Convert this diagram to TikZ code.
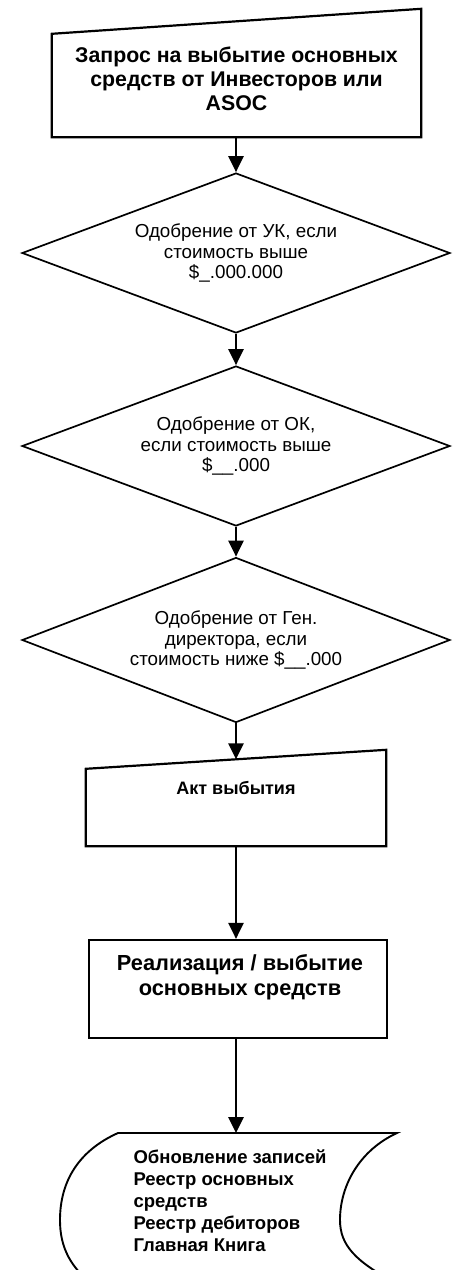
\documentclass[tikz,border=0pt]{standalone}
\usepackage{fontspec}
\setmainfont{Liberation Sans}
\usetikzlibrary{shapes.geometric,arrows.meta,calc}

\begin{document}
\begin{tikzpicture}[x=1pt, y=-1pt, line join=miter,
    flow/.style={-{Triangle[length=16pt,width=15pt]}, line width=2.6pt},
    dec/.style={diamond, draw, line width=1.7pt, shape aspect=2.675,
      minimum width=428pt, minimum height=160pt, inner sep=0pt,
      align=center, font=\fontsize{18.8}{20.8}\selectfont},
    frame/.style={inner sep=0pt},
    boldtxt/.style={align=center, font=\bfseries\fontsize{21.3}{24}\selectfont}]
    \useasboundingbox (0,0) rectangle (458,1270);
    \clip (0,0) rectangle (458,1270);

    % request (manual input)
    \node[frame, minimum width=369pt, minimum height=103pt] (req) at (236.5,85.5) {};
    \draw[line width=2.2pt] (req.south west) -- (req.north west)
      -- ($(req.north east)+(0,25pt)$) -- (req.south east) -- cycle;
    \node[boldtxt] (reqtxt) at (236.5,79)
      {Запрос на выбытие основных\\средств от Инвесторов или\\ASOC};

    % approvals
    \node[dec] (uk) at (236,253) {Одобрение от УК, если\\стоимость выше\\\$\_.000.000};
    \node[dec] (ok) at (236,446) {Одобрение от ОК,\\если стоимость выше\\\$\_\_.000};
    \node[dec, minimum height=165pt] (gd) at (236,640)
      {Одобрение от Ген.\\директора, если\\стоимость ниже \$\_\_.000};

    % act (manual input)
    \node[frame, minimum width=300pt, minimum height=77pt] (akt) at (236,807.5) {};
    \draw[line width=2.2pt] (akt.south west) -- (akt.north west)
      -- ($(akt.north east)+(0,19pt)$) -- (akt.south east) -- cycle;
    \node[boldtxt, font=\bfseries\fontsize{18}{21}\selectfont] (akttxt) at (236,788) {Акт выбытия};

    % disposal
    \node[draw, line width=2.2pt, minimum width=298pt, minimum height=98pt] (real) at (238,989) {};
    \node[boldtxt, font=\bfseries\fontsize{21.8}{25}\selectfont] (realtxt) at (240,977.5)
      {Реализация / выбытие\\основных средств};

    % records (stored data)
    \coordinate (upd-n) at (236,1133);
    \draw[line width=1.9pt] (118,1300) .. controls (68,1275) and (60,1245) .. (60,1220)
      .. controls (60,1180) and (80,1150) .. (118,1133) -- (397,1133)
      .. controls (360,1150) and (340,1185) .. (340,1220)
      .. controls (340,1245) and (355,1262) .. (400,1285);
    \node[anchor=west, align=left, font=\bfseries\fontsize{18.5}{22}\selectfont] (upd) at (130,1200.5)
      {Обновление записей\\Реестр основных\\средств\\Реестр дебиторов\\Главная Книга};

    \draw[flow] (req.south -| uk.north) -- (uk.north);
    \draw[flow] (uk.south) -- (ok.north);
    \draw[flow] (ok.south) -- (gd.north);
    \draw[flow] (gd.south) -- ($(akt.north)+(0,9.5pt)$);
    \draw[flow] (akt.south) -- (akt.south |- real.north);
    \draw[flow] (real.south -| upd-n) -- (upd-n);
\end{tikzpicture}
\end{document}
